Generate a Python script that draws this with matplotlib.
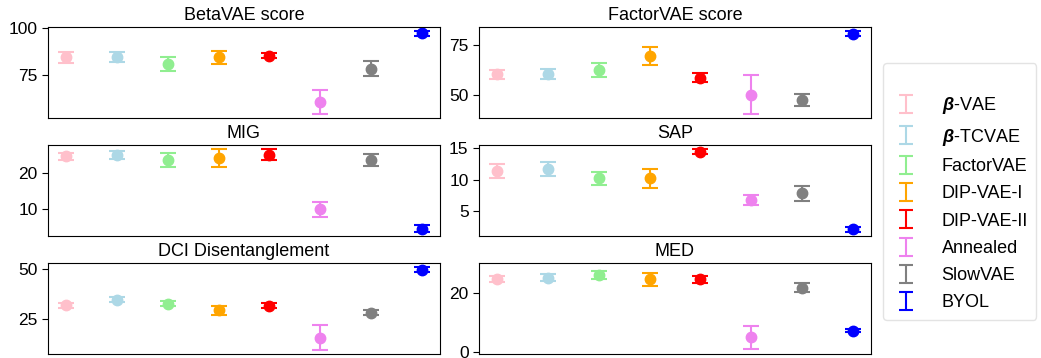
import numpy as np
import matplotlib
matplotlib.use("Agg")
import matplotlib.pyplot as plt

plt.rcParams['font.family'] = ['Liberation Sans', 'DejaVu Sans']
plt.rcParams['mathtext.fontset'] = 'custom'
plt.rcParams['mathtext.rm'] = 'Liberation Sans'
plt.rcParams['mathtext.bf'] = 'Liberation Sans:bold'
plt.rcParams['mathtext.it'] = 'Liberation Sans:italic'
plt.rcParams['mathtext.bfit'] = 'Liberation Sans:bold:italic'

# Methods and colours
methods = [r'$\boldsymbol{\beta}$-VAE', r'$\boldsymbol{\beta}$-TCVAE', 'FactorVAE',
           'DIP-VAE-I', 'DIP-VAE-II', 'Annealed', 'SlowVAE', 'BYOL']
colors = ['pink', 'lightblue', 'lightgreen', 'orange', 'red', 'violet', 'gray', 'blue']

# Metric scores (mean, std) per method
betavae_mean = [84.1, 84.5, 80.7, 84.1, 85.0, 60.4, 78.0, 96.9]
betavae_std = [2.8, 2.7, 3.9, 3.4, 1.4, 6.3, 4.0, 1.2]
factorvae_mean = [60.2, 60.3, 62.5, 69.7, 58.5, 50.0, 47.2, 81.0]
factorvae_std = [2.5, 2.5, 3.7, 4.7, 2.3, 9.8, 2.9, 1.2]
mig_mean = [24.5, 24.9, 23.5, 24.0, 25.0, 9.8, 23.5, 4.5]
mig_std = [1.05, 1.0, 1.9, 2.5, 1.45, 2.1, 1.7, 0.9]
sap_mean = [11.35, 11.7, 10.2, 10.2, 14.4, 6.77, 7.86, 2.19]
sap_std = [1.1, 1.1, 1.0, 1.45, 0.4, 0.83, 1.15, 0.4]
dci_mean = [32.0, 34.7, 32.8, 29.5, 31.8, 15.8, 28.3, 49.8]
dci_std = [1.2, 1.3, 1.3, 2.2, 1.3, 6.2, 1.1, 1.3]
med_mean = [24.7, 25.3, 26.2, 24.7, 24.7, 4.85, 21.85, 7.2]
med_std = [1.0, 1.1, 1.3, 2.25, 1.1, 3.9, 1.5, 0.45]

titles = ['BetaVAE score', 'FactorVAE score', 'MIG', 'SAP', 'DCI Disentanglement', 'MED']
means = [betavae_mean, factorvae_mean, mig_mean, sap_mean, dci_mean, med_mean]
stds = [betavae_std, factorvae_std, mig_std, sap_std, dci_std, med_std]
yticks = [[75, 100], [50, 75], [10, 20], [5, 10, 15], [25, 50], [0, 20]]

fig = plt.figure(figsize=(10.41, 3.58), dpi=100)
W, H = 1041, 358
lefts = [48, 479]
width = 392
tops = [27, 145, 263]
height = 91

x = np.arange(len(methods))
for i, title in enumerate(titles):
    r, c = divmod(i, 2)
    ax = fig.add_axes([lefts[c] / W, 1 - (tops[r] + height) / H, width / W, height / H])
    for j in range(len(methods)):
        ax.errorbar(x[j], means[i][j], yerr=stds[i][j], fmt='o', color=colors[j],
                    markersize=7.5, capsize=5.5, elinewidth=1.5, capthick=1.5)
    ax.set_title(title, fontsize=13, pad=5)
    ax.set_xticks([])
    ax.set_yticks(yticks[i])
    ax.tick_params(axis='y', labelsize=12.5, length=4)
    if title == 'MED':
        ax.set_ylim(-0.8, 30.3)

# legend handles without markers
handles = []
for j, m in enumerate(methods):
    h = ax.errorbar([np.nan], [np.nan], yerr=[np.nan], fmt='none', color=colors[j],
                    capsize=5, elinewidth=1.5, capthick=1.5, label=m)
    handles.append(h)

leg = fig.legend(handles=handles, loc='upper left', bbox_to_anchor=(883 / W, 1 - 63 / H),
                 borderaxespad=0, fontsize=13, title=' ', title_fontsize=10.5,
                 labelspacing=0.57, handlelength=1.6, handletextpad=1.2,
                 borderpad=0.45, frameon=True)
leg.get_frame().set_edgecolor('#dddddd')

fig.savefig('out.png', dpi=100)
